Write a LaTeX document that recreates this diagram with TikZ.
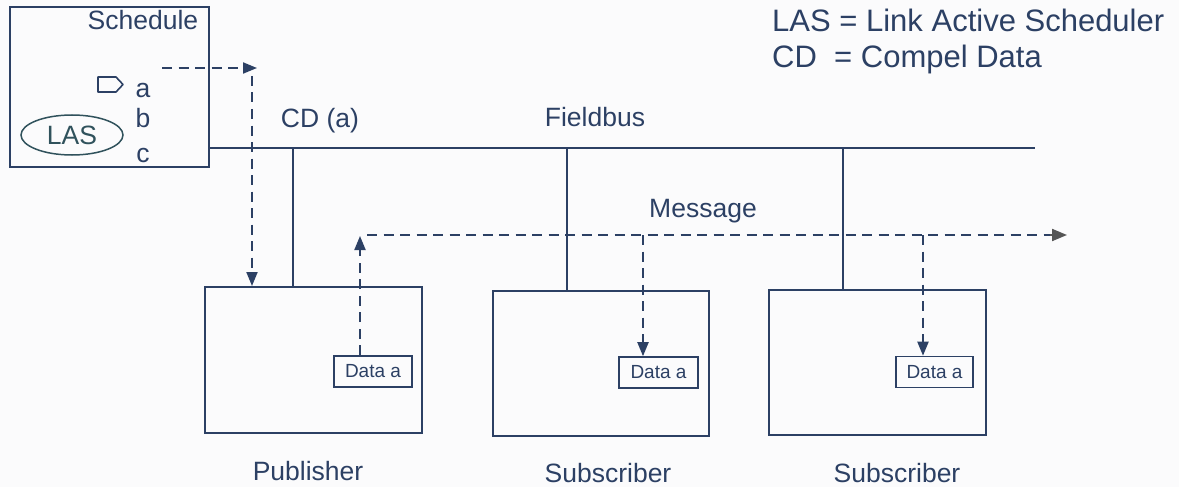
\documentclass[tikz,border=0pt]{standalone}
\usepackage{fontspec}
\setmainfont{Liberation Sans}
\usetikzlibrary{arrows.meta,shapes.geometric}
\definecolor{navy}{RGB}{44,64,100}
\definecolor{tealtext}{RGB}{48,82,92}
\definecolor{tipgrey}{RGB}{85,85,85}
\tikzset{
  lbl/.style={font=\fontsize{26.5}{30}\selectfont, text=navy, inner sep=0pt, anchor=base},
  legend/.style={font=\fontsize{31}{36}\selectfont, text=navy, inner sep=0pt, anchor=base west},
  devbox/.style={draw=navy, line width=2pt, rectangle, inner sep=0pt},
  databox/.style={draw=navy, line width=1.6pt, rectangle, inner sep=0pt,
    minimum height=31pt, font=\fontsize{19}{22}\selectfont, text=navy},
  bus/.style={draw=navy, line width=2pt},
  flow/.style={draw=navy, line width=2pt, dash pattern=on 10pt off 6.5pt,
    -{Triangle[length=14pt,width=11pt]}},
  flowline/.style={draw=navy, line width=2pt, dash pattern=on 10pt off 6.5pt},
}
\begin{document}
\begin{tikzpicture}[x=1pt,y=-1pt]
\useasboundingbox (0,0) rectangle (1179,487);
\fill[white!98!navy] (0,0) rectangle (1179,487);

% Link master with its schedule
\node[devbox, minimum width=199pt, minimum height=160pt] (sched) at (109.5,87) {};
\node[lbl] (schedlbl) at (143,30) {Schedule};
\node[lbl] (ia) at (143,97) {a};
\node[lbl] (ib) at (143,128) {b};
\node[lbl] (ic) at (143,162) {c};
\node[draw=tealtext, line width=1.5pt, ellipse, minimum width=102pt, minimum height=40pt,
      inner sep=0pt, text=tealtext, font=\fontsize{26.5}{30}\selectfont] (las) at (72,135) {LAS};
% current-entry pointer
\draw[navy, line width=1.6pt, line join=round]
  (98,77) -- (116,77) -- (123,84.5) -- (116,92) -- (98,92) -- cycle;

% Legend
\node[legend] (leg1) at (772,32) {LAS = Link Active Scheduler};
\node[legend] (leg2) at (772,68) {CD\ \ = Compel Data};

% Field devices
\node[devbox, minimum width=217pt, minimum height=146pt] (pub) at (313.5,360) {};
\node[devbox, minimum width=216pt, minimum height=145pt] (subA) at (601,363.5) {};
\node[devbox, minimum width=217pt, minimum height=145pt] (subB) at (877.5,362.5) {};

\node[databox, minimum width=78pt] (dataP) at (373,371.5) {Data a};
\node[databox, minimum width=79pt] (dataA) at (658.5,372.5) {Data a};
\node[databox, minimum width=77pt] (dataB) at (934.5,372) {Data a};

\node[lbl] (publbl) at (308,480) {Publisher};
\node[lbl] (subAlbl) at (608,482) {Subscriber};
\node[lbl] (subBlbl) at (897,482) {Subscriber};

% Fieldbus and device taps
\coordinate (busEnd) at (1035,147.5);
\coordinate (tapP) at (293,147.5);
\coordinate (tapA) at (567,147.5);
\coordinate (tapB) at (843,147.5);
\draw[bus] (sched.east |- busEnd) -- (busEnd);
\draw[bus] (tapP) -- (tapP |- pub.north);
\draw[bus] (tapA) -- (tapA |- subA.north);
\draw[bus] (tapB) -- (tapB |- subB.north);

\node[lbl] (cdlbl) at (320,128) {CD (a)};
\node[lbl] (buslbl) at (595,127) {Fieldbus};
\node[lbl] (msglbl) at (703,217) {Message};

% Compel Data token from the LAS to the publisher
\coordinate (cdStart) at (162,68);
\coordinate (cdCorner) at (257,68);
\coordinate (cdTop) at (252,76);
\draw[flow] (cdStart) -- (cdCorner);
\draw[flow] (cdTop) -- (cdTop |- pub.north);

% Published message and its subscribers
\coordinate (msgUp) at (360,236);
\coordinate (msgStart) at (367,235);
\coordinate (msgEnd) at (1067,235);
\coordinate (dropA) at (643,235);
\coordinate (dropB) at (923,235);
\draw[flow] (dataP.north -| msgUp) -- (msgUp);
\draw[flowline] (msgStart) -- (1050,235);
\draw[draw=navy, line width=2pt, dash pattern=on 10pt off 6.5pt,
      -{Triangle[length=15pt,width=12pt,fill=tipgrey]}, tipgrey] (1050,235) -- (msgEnd);
\draw[flow] (dropA) -- (dropA |- dataA.north);
\draw[flow] (dropB) -- (dropB |- dataB.north);
\end{tikzpicture}
\end{document}
